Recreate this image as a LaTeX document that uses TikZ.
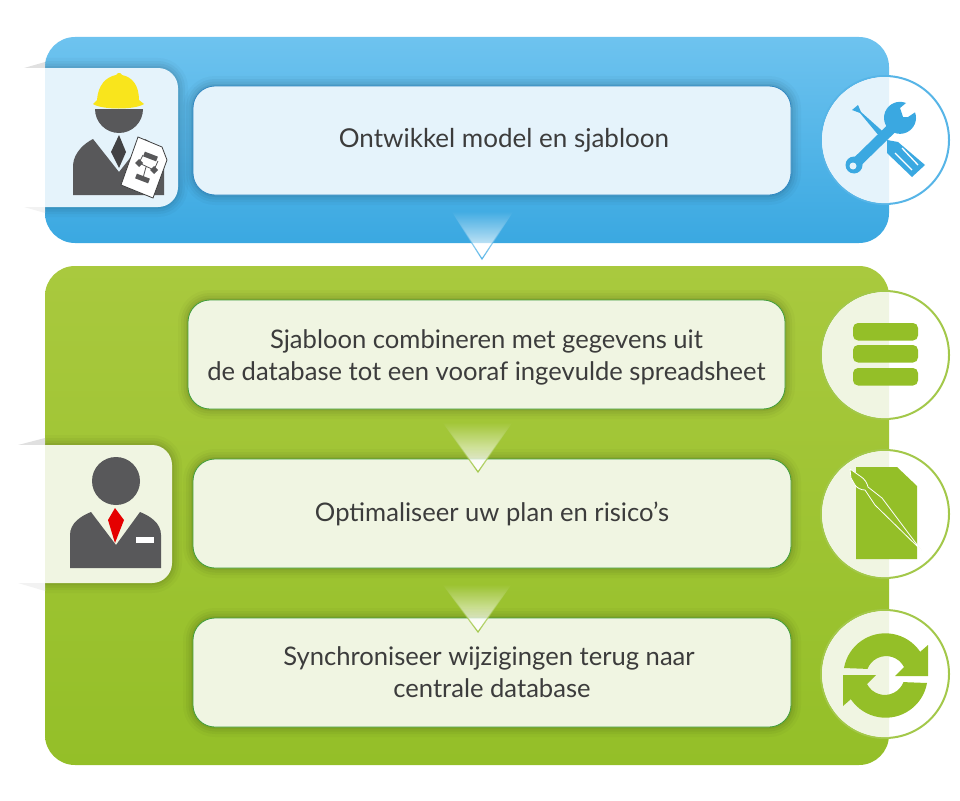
\documentclass[tikz,border=0pt]{standalone}
\usepackage{fontspec}
\setmainfont{Lato}
\usetikzlibrary{fadings}

\definecolor{bluetop}{HTML}{6EC3EF}
\definecolor{bluebot}{HTML}{3AA8E1}
\definecolor{blueline}{HTML}{2E86C1}
\definecolor{bluering}{HTML}{57B5E7}
\definecolor{bluetint}{HTML}{E5F3FB}
\definecolor{greentop}{HTML}{A9C93E}
\definecolor{greenbot}{HTML}{94BF28}
\definecolor{greenline}{HTML}{3F9C3A}
\definecolor{greenring}{HTML}{A3C84A}
\definecolor{greentint}{HTML}{F0F5E2}
\definecolor{persongray}{HTML}{58585A}
\definecolor{textgray}{HTML}{3C3C3C}
\definecolor{hatyellow}{HTML}{F9E51C}

\tikzset{
  softshadow/.style={
    preaction={draw=black,draw opacity=.025,line width=20pt},
    preaction={draw=black,draw opacity=.035,line width=14pt},
    preaction={draw=black,draw opacity=.04,line width=9pt},
    preaction={draw=black,draw opacity=.05,line width=4pt}},
  panel/.style={minimum width=844pt,rounded corners=30pt,inner sep=0pt,outer sep=0pt},
  bluebox/.style={softshadow,draw=blueline,line width=.8pt,fill=bluetint,
    rounded corners=22pt,minimum width=598pt,minimum height=109pt,align=center,
    text=textgray,font=\fontsize{25.6}{32}\selectfont},
  greenbox/.style={bluebox,draw=greenline,fill=greentint,minimum width=597pt},
  ring/.style={circle,fill=white,line width=2pt,minimum size=128pt,inner sep=0pt,outer sep=0pt},
  drop/.style={fill=white,line width=1.2pt,path fading=north}
}

\begin{document}
\begin{tikzpicture}[x=1pt,y=-1pt]
    \useasboundingbox (0,0) rectangle (960,800);
    % Panels
    \node[panel,minimum height=206pt,top color=bluetop,bottom color=bluebot] (modelpanel) at (467,140) {};
    \node[panel,minimum height=499pt,top color=greentop,bottom color=greenbot] (datapanel) at (467,515.5) {};
    % Fold of the cards
    \fill[black!12] (24,68) -- (45,62) -- (45,68) -- cycle;
    \fill[black!5] (24,207) -- (45,213) -- (45,207) -- cycle;
    \fill[black!12] (18,445) -- (45,438) -- (45,445) -- cycle;
    \fill[black!5] (18,583) -- (45,591) -- (45,583) -- cycle;
    % Cards
    \begin{scope}
        \clip (45,0) rectangle (960,800);
        \path[softshadow] (24,68) -- (158,68) arc[start angle=-90,end angle=0,radius=20] -- (178,187) arc[start angle=0,end angle=90,radius=20] -- (24,207) -- cycle;
        \path[softshadow] (18,445) -- (152,445) arc[start angle=-90,end angle=0,radius=20] -- (172,563) arc[start angle=0,end angle=90,radius=20] -- (18,583) -- cycle;
    \end{scope}
    \fill[white] (24,68) rectangle (46,207);
    \fill[bluetint] (45,68) -- (158,68) arc[start angle=-90,end angle=0,radius=20] -- (178,187) arc[start angle=0,end angle=90,radius=20] -- (45,207) -- cycle;
    \fill[white] (18,445) rectangle (46,583);
    \fill[greentint] (45,445) -- (152,445) arc[start angle=-90,end angle=0,radius=20] -- (172,563) arc[start angle=0,end angle=90,radius=20] -- (45,583) -- cycle;
    % Boxes
    \node[bluebox] (ontwikkel) at (492,140.5) {\hspace*{24pt}\fontsize{26}{32}\selectfont Ontwikkel model en sjabloon};
    \node[greenbox] (combineren) at (486.5,354.5) {\rule{0pt}{24pt}Sjabloon combineren met gegevens uit\\de database tot een vooraf ingevulde spreadsheet};
    \node[greenbox,minimum width=598pt] (optimaliseer) at (492,513.5) {Optimaliseer uw plan en risico’s};
    \node[greenbox,minimum width=598pt] (synchroniseer) at (492,672.5) {\hspace*{-6pt}Synchroniseer wijzigingen terug naar\\centrale database};
    % Arrows between the boxes
    \coordinate (droptop) at (482,259);
    \draw[drop,draw=bluering] (452,212) -- (513,212) -- (droptop) -- cycle;
    \coordinate (dropmid) at (478,472);
    \draw[drop,draw=greenring] (443,423) -- (512,423) -- (dropmid) -- cycle;
    \coordinate (droplow) at (478,632);
    \draw[drop,draw=greenring] (443,585) -- (511,585) -- (droplow) -- cycle;
    % Round icons
    \node[ring,draw=bluering] (toolring) at (885,140) {};
    \fill[bluetint] (889,203) arc[start angle=86.4,end angle=273.6,radius=63] -- cycle;
    \foreach \name/\cy in {dataring/355,docring/514,syncring/674} {
        \node[ring,draw=greenring] (\name) at (885,\cy) {};
        \fill[greentint] (889,\cy+63) arc[start angle=86.4,end angle=273.6,radius=63] -- cycle;
    }
    % Engineer
    \fill[persongray] (95,109) arc[start angle=180,end angle=0,radius=24] -- cycle;
    \fill[hatyellow] (93,104) -- (97,100) .. controls (98,85) and (106,77) .. (116,75) -- (118,73) -- (120,73) -- (122,75) .. controls (132,77) and (139,85) .. (139,100) -- (144,104) .. controls (135,110) and (102,110) .. (93,104) -- cycle;
    \fill[persongray] (73,195) -- (73,165) .. controls (74,152) and (85,143) .. (93,139) -- (119,172) -- (145,139) .. controls (153,143) and (164,152) .. (164,165) -- (164,195) -- cycle;
    \fill[persongray!75!black] (119,135) -- (126,152) -- (119,168) -- (111,152) -- cycle;
    \draw[persongray!70!black,fill=white,line width=.8pt] (138,137) -- (162,147) -- (167,160) -- (153,198) -- (121,185) -- cycle;
    \draw[persongray,line width=.8pt] (139,163) -- (143,155) (154,170) -- (158,161) (139,163) -- (154,170) (146,167) -- (143,178);
    \draw[persongray,line width=5pt] (144,154) -- (157,159) (136,176) -- (149,181);
    \fill[persongray] (139,159) -- (143,163) -- (139,167) -- (135,163) -- cycle;
    \fill[persongray] (154,166) -- (158,170) -- (154,174) -- (150,170) -- cycle;
    % Employee
    \fill[persongray] (116,481) circle (24);
    \fill[persongray] (70,568) -- (70,535) .. controls (70,523) and (81,516) .. (91,512) -- (116,545) -- (140,512) .. controls (150,516) and (161,523) .. (161,535) -- (161,568) -- cycle;
    \fill[red!90!black] (115,508) -- (124,520) -- (115,543) -- (108,520) -- cycle;
    \fill[white] (136,537) rectangle (154,543);
    % Tools
    \fill[bluebot] (858,105) -- (852,110) -- (860,113) -- (884,142) -- (889,137) -- (861,112) -- cycle;
    \fill[bluebot] (887,140) -- (898,142) -- (925,165) -- (912,177) -- (887,153) -- cycle;
    \draw[white,line width=1.3pt] (895,153) -- (912,170) (902,148) -- (918,165);
    \draw[bluebot,line width=10.5pt] (855,164) -- (894,126);
    \fill[bluebot] (854,165) circle (8.5);
    \fill[bluebot] (906,103) arc[start angle=-68,end angle=-380,radius=16] -- (908,117) -- (903,117) -- (900,108) -- cycle;
    \fill[bluetint] (853,166) circle (3.5);
    % Database
    \foreach \by in {323,345,368} {
        \fill[greenbot,rounded corners=5pt] (853,\by) rectangle (918,\by+17.5);
    }
    % Document with brush
    \fill[greenbot] (856,467) -- (897,467) -- (917,486) -- (917,559) -- (856,559) -- cycle;
    \draw[white,line width=.8pt,fill=greenbot,line join=round] (850,469) -- (860,476) .. controls (865,479) and (867,483) .. (868,487) -- (882,498) -- (921,550) -- (875,505) -- (865,490) .. controls (861,490) and (857,488) .. (855,485) -- (851,478) -- cycle;
    % Sync
    \fill[greenbot] (844,668) arc[start angle=-170,end angle=-34,radius=42] -- (928,645) -- (928,676) -- (895,676) -- (904,667) arc[start angle=-27,end angle=-159,radius=20] -- cycle;
    \fill[greenbot,rotate around={180:(885.5,675.5)}] (844,668) arc[start angle=-170,end angle=-34,radius=42] -- (928,645) -- (928,676) -- (895,676) -- (904,667) arc[start angle=-27,end angle=-159,radius=20] -- cycle;
\end{tikzpicture}
\end{document}
